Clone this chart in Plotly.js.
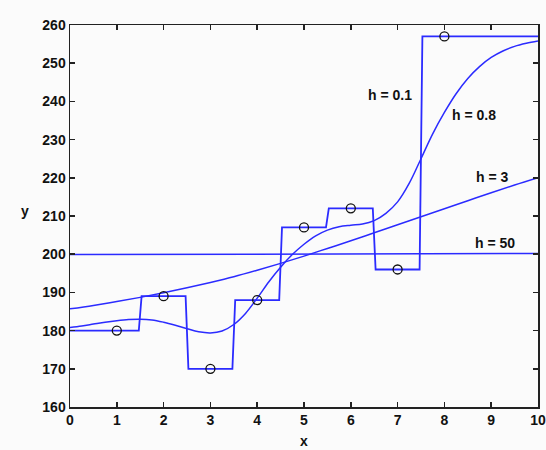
<!DOCTYPE html>
<html>
<head>
<meta charset="utf-8">
<script src="https://cdn.plot.ly/plotly-3.0.1.min.js"></script>
<style>html,body{margin:0;padding:0;background:#fbfbfb;}#chart{width:546px;height:450px;}</style>
</head>
<body>
<div id="chart"></div>
<script>
// observed data points
var dataX = [1, 2, 3, 4, 5, 6, 7, 8];
var dataY = [180, 189, 170, 188, 207, 212, 196, 257];

// h = 0.1 (step-like fit)
var h01X = [0, 1.47, 1.53, 2.47, 2.53, 3.47, 3.53, 4.47, 4.53, 5.47, 5.53, 6.47, 6.53, 7.47, 7.53, 10];
var h01Y = [180, 180, 189, 189, 170, 170, 188, 188, 207, 207, 212, 212, 196, 196, 257, 257];

// h = 0.8
var h08X = [0, 0.25, 0.5, 0.75, 1, 1.25, 1.5, 1.75, 2, 2.25, 2.5, 2.75, 3, 3.25, 3.5, 3.75, 4, 4.25, 4.5, 4.75, 5,
            5.25, 5.5, 5.75, 6, 6.25, 6.5, 6.75, 7, 7.25, 7.5, 7.75, 8, 8.25, 8.5, 8.75, 9, 9.25, 9.5, 9.75, 10];
var h08Y = [180.8, 181.2, 181.7, 182.2, 182.6, 182.9, 183.0, 182.8, 182.2, 181.4, 180.5, 179.7, 179.4, 179.9, 181.6,
            184.5, 188.5, 192.8, 196.6, 199.9, 202.6, 204.8, 206.3, 207.2, 207.6, 207.9, 208.8, 210.7, 213.7, 218.6,
            225.0, 231.5, 237.1, 242.0, 246.0, 249.1, 251.5, 253.2, 254.4, 255.2, 255.8];

// h = 3
var h3X = [0, 0.5, 1, 1.5, 2, 2.5, 3, 3.5, 4, 4.5, 5, 5.5, 6, 6.5, 7, 7.5, 8, 8.5, 9, 9.5, 10];
var h3Y = [185.7, 186.6, 187.6, 188.7, 189.9, 191.2, 192.6, 194.1, 195.8, 197.6, 199.5, 201.5, 203.5, 205.6,
           207.7, 209.8, 211.9, 214.0, 216.1, 218.1, 220.0];

// h = 50
var h50X = [0, 10];
var h50Y = [199.9, 200.2];

// labels
var curveLabels = ["h = 0.1", "h = 0.8", "h = 3", "h = 50"];
var labelX = [6.84, 8.63, 9.02, 9.09];
var labelY = [241.7, 236.4, 220.3, 203.0];

var xTicks = [0, 1, 2, 3, 4, 5, 6, 7, 8, 9, 10];
var yTicks = [160, 170, 180, 190, 200, 210, 220, 230, 240, 250, 260];

var blue = '#2b2bff';
var fontFam = 'Arial, "Liberation Sans", sans-serif';
var txtFont = {family: fontFam, size: 14, color: '#111', weight: 'bold'};

var traces = [
  {x: h50X, y: h50Y, mode: 'lines', line: {color: blue, width: 1.5}},
  {x: h3X, y: h3Y, mode: 'lines', line: {color: blue, width: 1.5, shape: 'spline'}},
  {x: h08X, y: h08Y, mode: 'lines', line: {color: blue, width: 1.5, shape: 'spline'}},
  {x: h01X, y: h01Y, mode: 'lines', line: {color: blue, width: 1.8}},
  {x: dataX, y: dataY, mode: 'markers',
   marker: {symbol: 'circle-open', size: 9, color: '#111', line: {width: 1.3, color: '#111'}}}
];

var annotations = curveLabels.map(function (t, i) {
  return {x: labelX[i], y: labelY[i], xref: 'x', yref: 'y', text: t, showarrow: false, font: txtFont};
});
annotations.push({x: 0.5, y: -0.089, xref: 'paper', yref: 'paper', xanchor: 'center', yanchor: 'middle',
  text: 'x', showarrow: false, font: txtFont});
annotations.push({x: -0.096, y: 0.512, xref: 'paper', yref: 'paper', xanchor: 'center', yanchor: 'middle',
  text: 'y', showarrow: false, font: txtFont});

var axisCommon = {
  showgrid: false, zeroline: false, showline: true, linecolor: '#222', linewidth: 1.5,
  mirror: 'ticks', ticks: 'inside', ticklen: 5, tickwidth: 1.5, tickcolor: '#222',
  tickfont: txtFont
};

var layout = {
  width: 546, height: 450,
  margin: {l: 70, r: 8, t: 25, b: 43},
  paper_bgcolor: '#fbfbfb', plot_bgcolor: '#fbfbfb',
  showlegend: false,
  xaxis: Object.assign({}, axisCommon, {range: [0, 10], tickvals: xTicks, ticktext: xTicks.map(String)}),
  yaxis: Object.assign({}, axisCommon, {range: [160, 260], tickvals: yTicks, ticktext: yTicks.map(String)}),
  annotations: annotations
};

Plotly.newPlot('chart', traces, layout, {displayModeBar: false, staticPlot: true});
</script>
</body>
</html>
